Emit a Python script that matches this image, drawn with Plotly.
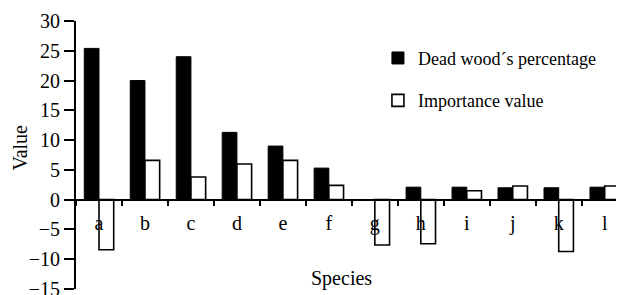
import plotly.graph_objects as go

species = ["a", "b", "c", "d", "e", "f", "g", "h", "i", "j", "k", "l"]
dead_wood = [25.4, 20.0, 24.0, 11.3, 9.0, 5.3, 0.0, 2.1, 2.1, 2.0, 2.0, 2.1]
importance = [-8.4, 6.6, 3.8, 6.0, 6.6, 2.4, -7.6, -7.4, 1.5, 2.3, -8.7, 2.3]
y_ticks = [-15, -10, -5, 0, 5, 10, 15, 20, 25, 30]

FONT = "Liberation Serif, Times New Roman, serif"

fig = go.Figure()
fig.add_trace(go.Bar(
    x=species, y=dead_wood, name="Dead wood\u00b4s percentage",
    marker=dict(color="black", line=dict(color="black", width=1)),
    legendgroup="g1",
))
fig.add_trace(go.Bar(
    x=species, y=importance, name="Importance value",
    marker=dict(color="white", line=dict(color="black", width=1.6)),
    legendgroup="g2",
))

# page body has an 8px default margin, so the figure is sized 8px smaller
fig.update_layout(
    width=616, height=287,
    margin=dict(l=68, r=0, t=13, b=6),
    paper_bgcolor="white", plot_bgcolor="white",
    barmode="group", bargap=0.36, bargroupgap=0,
    font=dict(family=FONT, size=18, color="black"),
    showlegend=True,
    legend=dict(
        x=0.551, y=0.93, xanchor="left", yanchor="top",
        bgcolor="rgba(0,0,0,0)", traceorder="grouped",
        tracegroupgap=16, font=dict(family=FONT, size=18),
        itemwidth=30,
    ),
    xaxis=dict(
        type="category", range=[-0.5, 11.42],
        anchor="free", position=1/3, automargin=False,
        showline=True, linecolor="black", linewidth=2,
        ticks="outside", tickson="boundaries", ticklen=5, tickwidth=2,
        tickcolor="black", ticklabelstandoff=5,
        tickfont=dict(family=FONT, size=20),
        showgrid=False, zeroline=False,
    ),
    yaxis=dict(
        range=[-15, 30], tickvals=y_ticks, automargin=False,
        showline=True, linecolor="black", linewidth=2,
        ticks="outside", ticklen=10, tickwidth=2, tickcolor="black",
        tickfont=dict(family=FONT, size=20),
        ticklabeloverflow="allow",
        showgrid=False, zeroline=False,
    ),
    annotations=[
        dict(text="Value", xref="paper", yref="paper", x=-0.103, y=0.526,
             xanchor="center", yanchor="middle",
             textangle=-90, showarrow=False, font=dict(family=FONT, size=20)),
        dict(text="Species", xref="paper", yref="paper", x=0.485, y=0.04,
             xanchor="center", yanchor="middle",
             showarrow=False, font=dict(family=FONT, size=20)),
    ],
)

fig.write_html("out.html")
